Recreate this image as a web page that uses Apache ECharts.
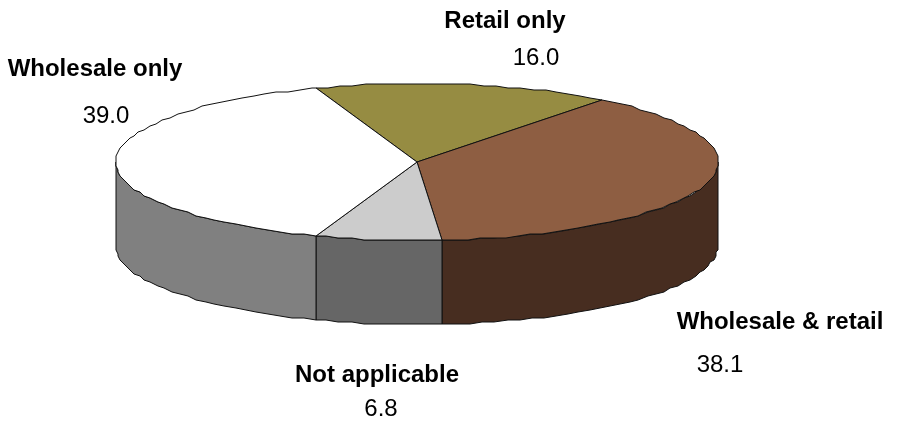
<!DOCTYPE html>
<html><head><meta charset="utf-8">
<style>html,body{margin:0;padding:0;background:#fff}#c{width:901px;height:421px}</style>
<script src="https://cdn.jsdelivr.net/npm/echarts@6/dist/echarts.min.js"></script>
</head><body><div id="c"></div>
<script>
const categories = ['Retail only', 'Wholesale & retail', 'Not applicable', 'Wholesale only'];
const shares = [16.0, 38.1, 6.8, 39.0];
const shareLabels = ['16.0', '38.1', '6.8', '39.0'];
const topColors = ['#968C42', '#8E5E42', '#CCCCCC', '#FFFFFF'];
const wallColors = ['#4B4621', '#472D20', '#666666', '#808080'];
const namePos = [[505, 21], [780, 322], [377, 375], [95, 69]];
const valuePos = [[536, 58], [720, 365], [381, 409], [106, 116]];

const cx = 417, cy = 162, rx = 301, ry = 78.5, depth = 84, startDeg = -19.8, stepDeg = 2.5, grid = 2;
const total = shares.reduce((a, b) => a + b, 0);
const snap = (v) => Math.round(v / grid) * grid;
const pt = (deg, dy) => {
  const t = deg * Math.PI / 180;
  return [snap(cx + rx * Math.sin(t)), snap(cy - ry * Math.cos(t)) + (dy || 0)];
};
const arc = (a, b, dy) => {
  const out = [];
  for (let d = a; d < b; d += stepDeg) out.push(pt(d, dy));
  out.push(pt(b, dy));
  return out;
};
const line = { stroke: '#111', lineWidth: 1, lineJoin: 'round' };
const font = (w) => w + ' 24px "Liberation Sans", Arial, sans-serif';

function renderItem(params, api) {
  const i = params.dataIndex;
  let before = 0;
  for (let k = 0; k < i; k++) before += shares[k];
  const a = startDeg + before / total * 360;
  const b = a + api.value(0) / total * 360;
  const children = [];
  const wa = Math.max(a, 90), wb = Math.min(b, 270);
  if (wb > wa) {
    const front = arc(wa, wb, 0);
    const back = arc(wa, wb, depth).reverse();
    children.push({ type: 'polygon', shape: { points: front.concat(back) },
      style: Object.assign({ fill: wallColors[i] }, line) });
  }
  children.push({ type: 'polygon', shape: { points: [[cx, cy]].concat(arc(a, b, 0)) },
    style: Object.assign({ fill: topColors[i] }, line) });
  children.push({ type: 'text', style: { text: categories[i], x: namePos[i][0], y: namePos[i][1],
    textAlign: 'center', textVerticalAlign: 'middle', font: font('bold'), fill: '#000' } });
  children.push({ type: 'text', style: { text: shareLabels[i], x: valuePos[i][0], y: valuePos[i][1],
    textAlign: 'center', textVerticalAlign: 'middle', font: font('normal'), fill: '#000' } });
  return { type: 'group', children };
}

const chart = echarts.init(document.getElementById('c'), null, { renderer: 'canvas' });
chart.setOption({
  animation: false,
  backgroundColor: '#fff',
  tooltip: { show: false },
  series: [{
    type: 'custom',
    coordinateSystem: 'none',
    silent: true,
    data: shares.map((v, i) => ({ name: categories[i], value: [v] })),
    renderItem
  }]
});
</script></body></html>
